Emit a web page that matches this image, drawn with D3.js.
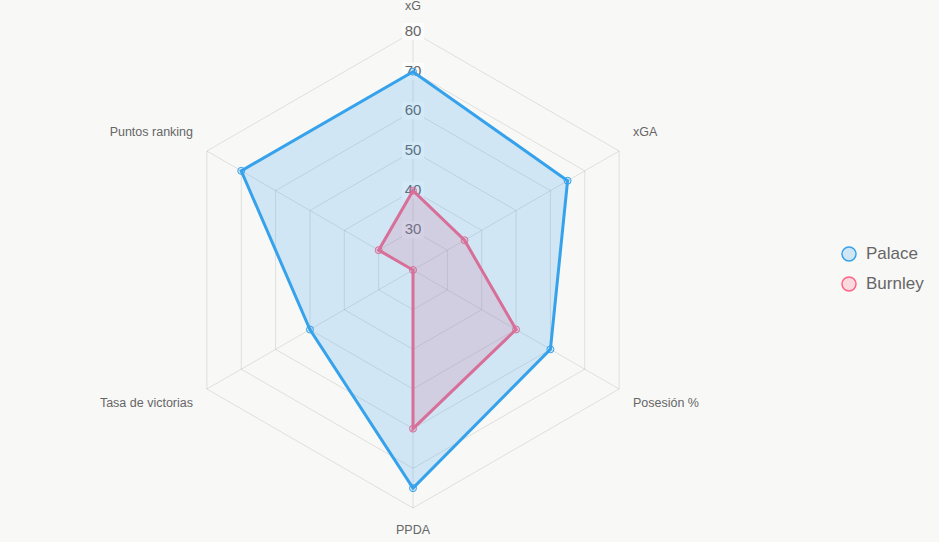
<!DOCTYPE html>
<html>
<head>
<meta charset="utf-8">
<script src="https://cdn.jsdelivr.net/npm/d3@7"></script>
<style>
  html, body { margin: 0; padding: 0; background: #f8f8f7; }
  svg { display: block; font-family: "Liberation Sans", Arial, Helvetica, sans-serif; }
</style>
</head>
<body>
<div id="chart"></div>
<script>
// axes of the radar, clockwise from the top
const axesLabels = ["xG", "xGA", "Posesión %", "PPDA", "Tasa de victorias", "Puntos ranking"];
const tickValues = [30, 40, 50, 60, 70, 80];

const seriesNames = ["Palace", "Burnley"];
const palaceValues = [70, 65, 60, 75, 50, 70];
const burnleyValues = [40, 35, 50, 60, 20, 30];

const width = 939, height = 542;
const cx = 413, cy = 270, outerR = 238;

const svg = d3.select("#chart").append("svg")
  .attr("width", width)
  .attr("height", height);

const r = d3.scaleLinear().domain([20, 80]).range([0, outerR]);

// angle of each axis, starting at 12 o'clock
const angle = i => (i * 2 * Math.PI / axesLabels.length) - Math.PI / 2;
const pt = (i, v) => [cx + r(v) * Math.cos(angle(i)), cy + r(v) * Math.sin(angle(i))];

const grid = svg.append("g").attr("stroke", "rgba(0,0,0,0.1)").attr("fill", "none");

// rings
tickValues.forEach(t => {
  grid.append("polygon")
    .attr("points", axesLabels.map((a, i) => pt(i, t).join(",")).join(" "));
});

// angle lines
axesLabels.forEach((a, i) => {
  const [x, y] = pt(i, 80);
  grid.append("line")
    .attr("x1", cx).attr("y1", cy)
    .attr("x2", x).attr("y2", y);
});

// point labels around the outside
axesLabels.forEach((a, i) => {
  const ang = angle(i);
  const cos = Math.cos(ang), sin = Math.sin(ang);
  let x = cx + (outerR + 16) * cos;
  let y = cy + (outerR + 16) * sin;
  if (Math.abs(cos) < 0.01) y += sin < 0 ? -9 : 7;
  else y += sin < 0 ? -10 : 7;
  let anchor = "middle";
  if (cos > 0.01) anchor = "start";
  if (cos < -0.01) anchor = "end";
  svg.append("text")
    .attr("x", x).attr("y", y)
    .attr("text-anchor", anchor)
    .attr("dominant-baseline", "middle")
    .attr("fill", "#666")
    .attr("font-size", 12.5)
    .text(a);
});

// tick labels with backdrop
const ticks = svg.append("g");
tickValues.forEach(t => {
  const y = cy - r(t);
  ticks.append("rect")
    .attr("x", cx - 11).attr("y", y - 9)
    .attr("width", 22).attr("height", 17)
    .attr("fill", "rgba(255,255,255,0.75)");
  ticks.append("text")
    .attr("x", cx).attr("y", y)
    .attr("text-anchor", "middle")
    .attr("dominant-baseline", "middle")
    .attr("fill", "#666")
    .attr("font-size", 15)
    .text(t);
});

const datasets = [
  { name: seriesNames[0], values: palaceValues, stroke: "rgb(54,162,235)", fill: "rgba(54,162,235,0.2)" },
  { name: seriesNames[1], values: burnleyValues, stroke: "rgb(255,99,132)", fill: "rgba(255,99,132,0.2)" }
];

// draw last dataset first so the first one sits on top
datasets.slice().reverse().forEach(ds => {
  const g = svg.append("g");
  const pts = ds.values.map((v, i) => pt(i, v));
  g.append("polygon")
    .attr("points", pts.map(p => p.join(",")).join(" "))
    .attr("fill", ds.fill)
    .attr("stroke", ds.stroke)
    .attr("stroke-width", 3)
    .attr("stroke-linejoin", "miter");
  g.selectAll("circle")
    .data(pts)
    .join("circle")
      .attr("cx", d => d[0])
      .attr("cy", d => d[1])
      .attr("r", 3.5)
      .attr("fill", ds.fill)
      .attr("stroke", ds.stroke)
      .attr("stroke-width", 1);
});

// legend
const legend = svg.append("g");
datasets.forEach((ds, i) => {
  const y = 254 + i * 30;
  legend.append("circle")
    .attr("cx", 849).attr("cy", y).attr("r", 7)
    .attr("fill", ds.fill)
    .attr("stroke", ds.stroke)
    .attr("stroke-width", 1.5);
  legend.append("text")
    .attr("x", 866).attr("y", y + 1)
    .attr("dominant-baseline", "middle")
    .attr("fill", "#666")
    .attr("font-size", 17)
    .text(ds.name);
});
</script>
</body>
</html>
